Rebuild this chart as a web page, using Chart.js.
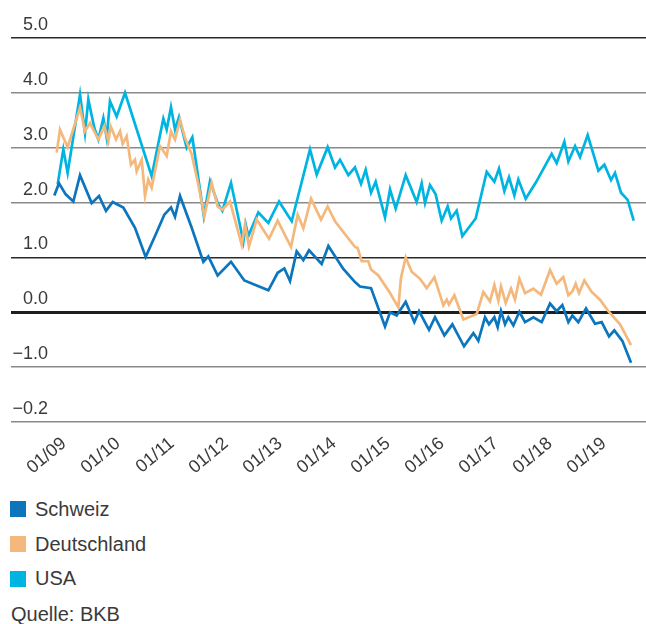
<!DOCTYPE html>
<html>
<head>
<meta charset="utf-8">
<script src="https://cdn.jsdelivr.net/npm/chart.js@4.4.1/dist/chart.umd.min.js"></script>
<style>
  html, body { margin: 0; padding: 0; background: #fff; }
  body { width: 646px; height: 624px; position: relative; overflow: hidden;
         font-family: "Liberation Sans", Arial, sans-serif; color: #3a3a3a; }
  #chart { position: absolute; left: 0; top: 0; }
  .legend { position: absolute; left: 10px; top: 492px; font-size: 20px; }
  .item { display: flex; align-items: center; height: 34.7px; }
  .box { width: 16px; height: 16px; margin-right: 9px; }
  .source { position: absolute; left: 11px; top: 602px; font-size: 20px; line-height: 24px; }
</style>
</head>
<body>
<canvas id="chart" width="646" height="480"></canvas>
<div class="legend" id="legend"></div>
<div class="source">Quelle: BKB</div>
<script>
// series names and colours
const seriesNames = ['Schweiz', 'Deutschland', 'USA'];
const seriesColors = ['#0b75bd', '#f4b87d', '#00b4e1'];

// [year, value]
const schweiz = [
    [2008.876, 2.13], [2008.963, 2.35], [2009.087, 2.15], [2009.228, 2.02], [2009.352, 2.50],
    [2009.568, 1.99], [2009.704, 2.12], [2009.833, 1.85], [2009.957, 2.01], [2010.154, 1.91],
    [2010.370, 1.54], [2010.568, 1.01], [2010.741, 1.39], [2010.913, 1.78], [2011.037, 1.91],
    [2011.111, 1.74], [2011.204, 2.12], [2011.420, 1.54], [2011.636, 0.92], [2011.728, 1.02],
    [2011.901, 0.67], [2012.148, 0.92], [2012.395, 0.58], [2012.840, 0.40], [2013.012, 0.72],
    [2013.136, 0.80], [2013.241, 0.57], [2013.364, 1.11], [2013.488, 0.95], [2013.593, 1.13],
    [2013.827, 0.88], [2013.951, 1.21], [2014.228, 0.79], [2014.444, 0.55], [2014.537, 0.47],
    [2014.741, 0.44], [2015.000, -0.26], [2015.093, 0.00], [2015.216, -0.06], [2015.383, 0.19],
    [2015.543, -0.18], [2015.630, 0.02], [2015.815, -0.32], [2015.926, -0.09], [2016.099, -0.42],
    [2016.247, -0.22], [2016.463, -0.62], [2016.636, -0.38], [2016.728, -0.52], [2016.852, -0.09],
    [2016.926, -0.22], [2017.025, -0.09], [2017.086, -0.27], [2017.148, 0.02], [2017.222, -0.22],
    [2017.284, -0.09], [2017.377, -0.24], [2017.488, 0.01], [2017.593, -0.18], [2017.747, -0.09],
    [2017.901, -0.18], [2018.056, 0.16], [2018.179, 0.02], [2018.284, 0.13], [2018.395, -0.18],
    [2018.469, -0.06], [2018.580, -0.18], [2018.722, 0.07], [2018.889, -0.21], [2019.012, -0.18],
    [2019.148, -0.44], [2019.247, -0.33], [2019.395, -0.52], [2019.556, -0.92]
];

const deutschland = [
    [2008.920, 2.91], [2008.981, 3.33], [2009.123, 3.01], [2009.352, 3.73], [2009.444, 3.30],
    [2009.537, 3.45], [2009.691, 3.15], [2009.802, 3.39], [2009.877, 3.12], [2009.920, 3.39],
    [2010.019, 3.15], [2010.093, 3.30], [2010.142, 3.07], [2010.216, 3.21], [2010.296, 2.69],
    [2010.370, 2.78], [2010.401, 2.57], [2010.494, 2.78], [2010.556, 2.12], [2010.617, 2.42],
    [2010.679, 2.27], [2010.833, 3.03], [2010.957, 2.85], [2011.037, 3.30], [2011.111, 3.15],
    [2011.204, 3.51], [2011.296, 3.18], [2011.420, 2.88], [2011.543, 2.33], [2011.654, 1.75],
    [2011.790, 2.36], [2011.901, 1.93], [2011.988, 1.87], [2012.130, 2.02], [2012.346, 1.23],
    [2012.407, 1.60], [2012.481, 1.20], [2012.623, 1.69], [2012.852, 1.34], [2013.012, 1.67],
    [2013.259, 1.19], [2013.383, 1.78], [2013.488, 1.53], [2013.630, 2.07], [2013.815, 1.69],
    [2013.938, 1.93], [2014.074, 1.66], [2014.444, 1.19], [2014.494, 1.17], [2014.568, 0.93],
    [2014.691, 0.93], [2014.741, 0.78], [2014.877, 0.67], [2015.093, 0.35], [2015.247, 0.09],
    [2015.296, 0.63], [2015.383, 1.00], [2015.494, 0.74], [2015.648, 0.61], [2015.772, 0.44],
    [2015.914, 0.64], [2016.080, 0.13], [2016.142, 0.23], [2016.185, 0.14], [2016.284, 0.31],
    [2016.451, -0.13], [2016.698, -0.03], [2016.821, 0.37], [2016.944, 0.20], [2017.025, 0.50],
    [2017.099, 0.21], [2017.148, 0.47], [2017.235, 0.17], [2017.333, 0.43], [2017.407, 0.23],
    [2017.488, 0.61], [2017.593, 0.35], [2017.747, 0.43], [2017.889, 0.32], [2018.056, 0.77],
    [2018.179, 0.52], [2018.302, 0.64], [2018.395, 0.31], [2018.469, 0.38], [2018.531, 0.52],
    [2018.593, 0.35], [2018.691, 0.58], [2018.827, 0.37], [2018.981, 0.23], [2019.136, 0.02],
    [2019.352, -0.22], [2019.556, -0.60]
];

const usa = [
    [2008.938, 2.33], [2009.043, 2.97], [2009.123, 2.54], [2009.352, 3.97], [2009.444, 3.27],
    [2009.506, 3.88], [2009.617, 3.36], [2009.691, 3.15], [2009.784, 3.54], [2009.846, 3.18],
    [2009.907, 3.85], [2010.031, 3.57], [2010.185, 4.00], [2010.679, 2.48], [2010.895, 3.53],
    [2010.957, 3.33], [2011.037, 3.74], [2011.111, 3.33], [2011.185, 3.56], [2011.327, 3.00],
    [2011.432, 3.19], [2011.645, 1.75], [2011.759, 2.39], [2011.901, 1.99], [2011.988, 1.85],
    [2012.148, 2.36], [2012.377, 1.29], [2012.420, 1.60], [2012.469, 1.39], [2012.654, 1.82],
    [2012.840, 1.63], [2013.037, 2.02], [2013.272, 1.66], [2013.611, 2.97], [2013.735, 2.51],
    [2013.938, 3.01], [2014.074, 2.64], [2014.167, 2.78], [2014.321, 2.50], [2014.444, 2.64],
    [2014.556, 2.34], [2014.642, 2.60], [2014.741, 2.18], [2014.827, 2.38], [2015.000, 1.73],
    [2015.093, 2.24], [2015.198, 1.89], [2015.383, 2.50], [2015.586, 2.01], [2015.679, 2.35],
    [2015.741, 1.99], [2015.833, 2.32], [2015.938, 2.15], [2016.049, 1.67], [2016.160, 1.93],
    [2016.222, 1.71], [2016.327, 1.85], [2016.432, 1.39], [2016.679, 1.71], [2016.883, 2.56],
    [2017.025, 2.38], [2017.111, 2.62], [2017.210, 2.21], [2017.296, 2.46], [2017.395, 2.13],
    [2017.469, 2.42], [2017.605, 2.07], [2017.790, 2.36], [2018.086, 2.89], [2018.179, 2.72],
    [2018.321, 3.11], [2018.395, 2.75], [2018.519, 3.03], [2018.611, 2.83], [2018.753, 3.23],
    [2018.951, 2.58], [2019.062, 2.69], [2019.185, 2.41], [2019.259, 2.54], [2019.370, 2.18],
    [2019.494, 2.05], [2019.605, 1.67]
];

// axis ticks
const xTickValues = [2009, 2010, 2011, 2012, 2013, 2014, 2015, 2016, 2017, 2018, 2019];
const xTickLabels = ['01/09', '01/10', '01/11', '01/12', '01/13', '01/14', '01/15', '01/16', '01/17', '01/18', '01/19'];
const yTickValues = [-2, -1, 0, 1, 2, 3, 4, 5];
const yTickLabels = ['\u22120.2', '\u22121.0', '0.0', '1.0', '2.0', '3.0', '4.0', '5.0'];

const textColor = '#3a3a3a';
const fontFamily = '"Liberation Sans", Arial, sans-serif';

function toPoints(pairs) {
    return pairs.map(p => ({ x: p[0], y: p[1] }));
}

const allSeries = [schweiz, deutschland, usa];
const datasets = allSeries.map((s, i) => ({
    label: seriesNames[i],
    data: toPoints(s),
    borderColor: seriesColors[i],
    backgroundColor: seriesColors[i],
    borderWidth: 2.7,
    pointRadius: 0,
    tension: 0,
    fill: false
}));

// html legend
const legendDiv = document.getElementById('legend');
seriesNames.forEach((name, i) => {
    const row = document.createElement('div');
    row.className = 'item';
    row.innerHTML = '<span class="box" style="background:' + seriesColors[i] + '"></span><span>' + name + '</span>';
    legendDiv.appendChild(row);
});

function gridColor(ctx) {
    const v = ctx.tick && ctx.tick.value;
    if (v === 0) return '#1e1e1e';
    if (v === 5 || v === 1) return '#2a2a2a';
    return '#8a8a8a';
}

function gridWidth(ctx) {
    const v = ctx.tick && ctx.tick.value;
    if (v === 0) return 3;
    if (v === 5 || v === 1) return 1.4;
    return 1.6;
}

const ctx = document.getElementById('chart').getContext('2d');
new Chart(ctx, {
    type: 'line',
    data: { datasets: datasets },
    options: {
        responsive: false,
        animation: false,
        devicePixelRatio: 1,
        layout: { padding: { left: 11, right: 0, top: 38, bottom: 0 } },
        plugins: {
            legend: { display: false },
            tooltip: { enabled: false }
        },
        scales: {
            x: {
                type: 'linear',
                min: 2008.074,
                max: 2019.833,
                grid: { display: false },
                border: { display: false },
                afterBuildTicks: (scale) => { scale.ticks = xTickValues.map(v => ({ value: v })); },
                afterFit: (scale) => { scale.height = 58; },
                ticks: {
                    autoSkip: false,
                    minRotation: 40,
                    maxRotation: 40,
                    padding: 3,
                    labelOffset: 3,
                    color: textColor,
                    font: { family: fontFamily, size: 18 },
                    callback: (value) => xTickLabels[xTickValues.indexOf(value)]
                }
            },
            y: {
                min: -2,
                max: 5,
                afterBuildTicks: (scale) => { scale.ticks = yTickValues.map(v => ({ value: v })); },
                afterFit: (scale) => { scale.width = 0; },
                grid: { color: gridColor, lineWidth: gridWidth, drawTicks: false },
                border: { display: false },
                ticks: {
                    mirror: true,
                    crossAlign: 'far',
                    padding: 1.5,
                    labelOffset: -13,
                    color: textColor,
                    font: { family: fontFamily, size: 18 },
                    callback: (value) => yTickLabels[yTickValues.indexOf(value)]
                }
            }
        }
    }
});
</script>
</body>
</html>
